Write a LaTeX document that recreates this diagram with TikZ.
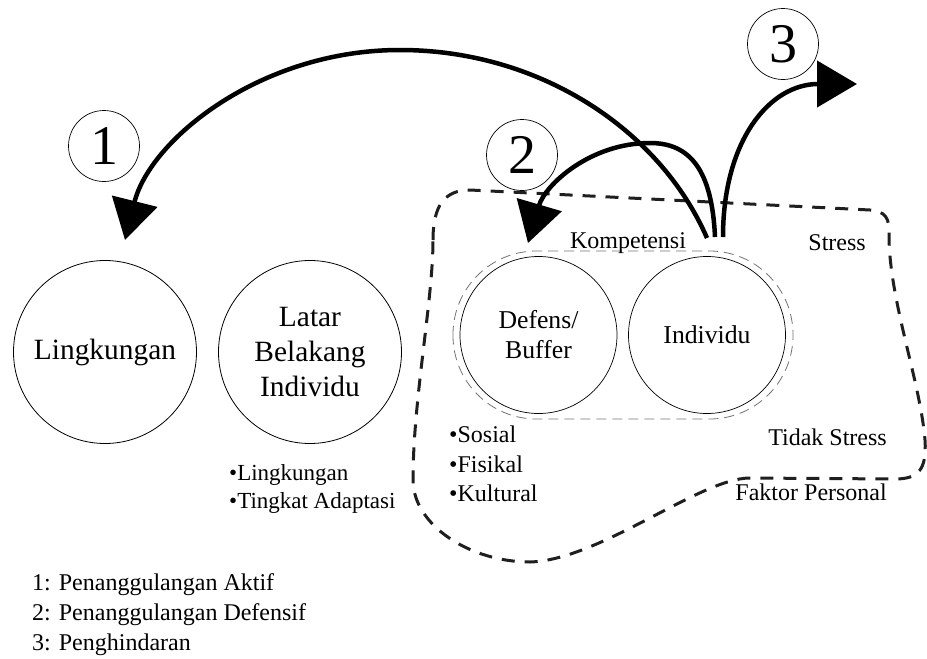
\documentclass[tikz,border=0pt]{standalone}
\usepackage{fontspec}
\setmainfont{Liberation Serif}
\usetikzlibrary{arrows.meta}
\tikzset{
every picture/.style={line join=round},
big circle/.style={
  draw, circle,
  line width=0.8pt,
  minimum size=183pt,
  inner sep=0pt,
  align=center,
  font=\fontsize{29.4}{35}\selectfont
},
inner circle/.style={
  draw, circle,
  line width=0.7pt,
  minimum size=157pt,
  inner sep=0pt,
  align=center,
  font=\fontsize{25.7}{30}\selectfont
},
num circle/.style={
  draw, circle,
  line width=0.7pt,
  minimum size=71pt,
  inner sep=0pt,
  font=\fontsize{56}{60}\selectfont
},
small label/.style={inner sep=0pt, align=left, font=\fontsize{24}{29.5}\selectfont},
coping arrow/.style={line width=4.5pt, -{Triangle[length=40pt,width=46pt]}},
personal line/.style={draw=black!88, line width=3pt, dash pattern=on 13pt off 10pt},
komp line/.style={draw=black!55, line width=0.8pt, dash pattern=on 10pt off 6pt}
}
\begin{document}
\begin{tikzpicture}[x=1pt,y=-1pt]
\useasboundingbox (0,0) rectangle (927,659);
% faktor personal region
\draw[personal line] (433,240) .. controls (433,205) and (445,190) .. (470,190)
  -- (870,210) .. controls (885,211) and (890,218) .. (889,235)
  .. controls (889,300) and (920,380) .. (925,440)
  .. controls (927,470) and (918,479) .. (895,479) -- (750,478)
  .. controls (700,478) and (600,560) .. (530,562)
  .. controls (470,562) and (413,525) .. (413,480)
  .. controls (413,400) and (433,300) .. (433,240) -- cycle;
% kompetensi
\draw[komp line,rounded corners=83.5pt] (453,251) rectangle (793,419);
\node[inner sep=0pt,anchor=base,font=\fontsize{24}{29}\selectfont] (komp) at (628,248) {Kompetensi};
% circles
\node[big circle] (lingk) at (105,352) {Lingkungan};
\node[big circle] (latar) at (310,352) {Latar\\Belakang\\Individu};
\node[inner circle] (defens) at (538.5,335) {Defens/\\Buffer};
\node[inner circle] (indiv) at (707,335) {Individu};
% labels
\node[small label,anchor=west,font=\fontsize{23}{28}\selectfont] (latarlist) at (229,489) {\textbullet Lingkungan\\\textbullet Tingkat Adaptasi};
\node[small label,anchor=west] (perslist) at (449,464) {\textbullet Sosial\\\textbullet Fisikal\\\textbullet Kultural};
\node[small label,anchor=base east] (stress) at (866,250) {Stress};
\node[small label,anchor=base east] (tidak) at (887,445) {Tidak Stress};
\node[small label,anchor=base east] (faktor) at (887,500) {Faktor Personal};
\node[small label,anchor=west,font=\fontsize{24}{30}\selectfont] (legend) at (32,615) {1: Penanggulangan Aktif\\2: Penanggulangan Defensif\\3: Penghindaran};
% numbers
\node[num circle] (n1) at (104,146) {1};
\node[num circle] (n2) at (522,155) {2};
\node[num circle] (n3) at (783,44) {3};
% arrows
\coordinate (src1) at (707,238);
\coordinate (src2) at (715,237);
\coordinate (src3) at (723,237);
\coordinate (tip1) at (125,240);
\coordinate (tip2) at (528,243);
\coordinate (tip3) at (857,84);
\draw[coping arrow] (src1) .. controls (660,130) and (540,50) .. (400,50)
  .. controls (260,50) and (150,140) .. (tip1);
\draw[coping arrow] (src2) .. controls (712,170) and (690,143) .. (650,143)
  .. controls (590,143) and (545,185) .. (tip2);
\draw[coping arrow] (src3) .. controls (723,140) and (770,84) .. (tip3);
\end{tikzpicture}
\end{document}
